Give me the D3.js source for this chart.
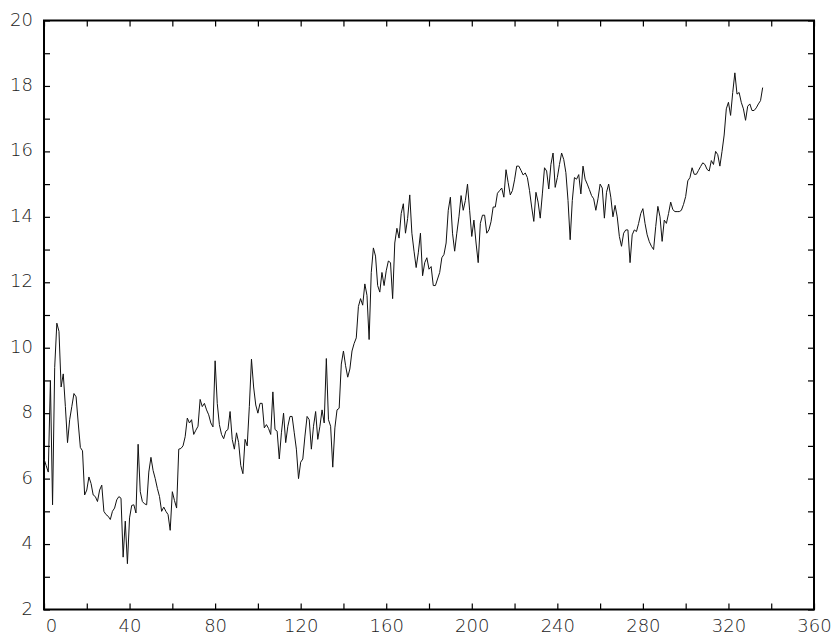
<!DOCTYPE html>
<html>
<head>
<meta charset="utf-8">
<script src="https://cdn.jsdelivr.net/npm/d3@7"></script>
<style>
  body { margin: 0; background: #fff; }
  .tick text { font-family: "DejaVu Sans", sans-serif; font-size: 18px; font-weight: 200; fill: #222; }
</style>
</head>
<body>
<svg id="chart" width="835" height="637"></svg>
<script>
// Series sampled once per x step, starting at x = 0
const values = [
  6.6, 6.4, 6.2, 9.0, 5.2, 9.4, 10.75, 10.5, 8.8, 9.2,
  8.2, 7.1, 7.8, 8.2, 8.6, 8.5, 7.7, 6.95, 6.85, 5.5,
  5.65, 6.05, 5.85, 5.5, 5.45, 5.3, 5.65, 5.8, 5.0, 4.9,
  4.85, 4.75, 5.0, 5.1, 5.35, 5.45, 5.4, 3.6, 4.7, 3.4,
  4.8, 5.18, 5.2, 4.95, 7.05, 5.6, 5.3, 5.23, 5.2, 6.2,
  6.65, 6.25, 6.0, 5.7, 5.45, 5.0, 5.13, 5.0, 4.9, 4.42,
  5.6, 5.33, 5.1, 6.9, 6.92, 7.0, 7.28, 7.85, 7.7, 7.8,
  7.35, 7.48, 7.6, 8.42, 8.2, 8.3, 8.1, 7.95, 7.7, 7.58,
  9.6, 8.3, 7.65, 7.35, 7.22, 7.45, 7.5, 8.05, 7.2, 6.9,
  7.4, 7.1, 6.4, 6.15, 7.2, 7.0, 8.2, 9.65, 8.8, 8.25,
  8.0, 8.3, 8.3, 7.55, 7.65, 7.53, 7.35, 8.65, 7.5, 7.45,
  6.6, 7.4, 8.0, 7.1, 7.6, 7.9, 7.9, 7.4, 6.9, 6.0,
  6.5, 6.6, 7.3, 7.9, 7.8, 6.9, 7.6, 8.05, 7.2, 7.6,
  8.1, 7.7, 9.67, 7.8, 7.6, 6.35, 7.55, 8.1, 8.15, 9.5,
  9.9, 9.45, 9.1, 9.35, 9.9, 10.13, 10.3, 11.26, 11.5, 11.3,
  11.95, 11.6, 10.25, 12.3, 13.05, 12.8, 11.9, 11.7, 12.3, 11.9,
  12.35, 12.65, 12.6, 11.5, 13.2, 13.65, 13.35, 14.1, 14.4, 13.5,
  13.95, 14.67, 13.5, 12.95, 12.45, 12.9, 13.5, 12.2, 12.6, 12.75,
  12.4, 12.48, 11.9, 11.9, 12.1, 12.3, 12.75, 12.85, 13.2, 14.2,
  14.6, 13.5, 12.95, 13.5, 14.0, 14.65, 14.2, 14.5, 15.0, 14.2,
  13.4, 13.9, 13.2, 12.6, 13.8, 14.05, 14.05, 13.5, 13.6, 13.85,
  14.3, 14.3, 14.72, 14.8, 14.88, 14.6, 15.44, 15.05, 14.67, 14.8,
  15.13, 15.55, 15.55, 15.42, 15.28, 15.34, 15.2, 14.8, 14.3, 13.86,
  14.75, 14.45, 13.96, 14.7, 15.5, 15.4, 14.85, 15.6, 15.95, 14.9,
  15.2, 15.6, 15.95, 15.75, 15.35, 14.5, 13.3, 14.5, 15.2, 15.15,
  15.29, 14.7, 15.55, 15.15, 15.0, 14.83, 14.65, 14.55, 14.2, 14.55,
  15.0, 14.88, 13.96, 14.75, 15.0, 14.6, 14.0, 14.35, 14.0, 13.4,
  13.1, 13.5, 13.6, 13.6, 12.6, 13.45, 13.6, 13.55, 13.8, 14.1,
  14.25, 13.8, 13.45, 13.24, 13.1, 13.0, 13.7, 14.32, 14.0, 13.25,
  13.9, 13.8, 14.1, 14.45, 14.22, 14.16, 14.16, 14.16, 14.2, 14.38,
  14.62, 15.1, 15.2, 15.5, 15.3, 15.3, 15.42, 15.54, 15.65, 15.6,
  15.45, 15.4, 15.72, 15.6, 16.0, 15.9, 15.55, 16.0, 16.5, 17.3,
  17.5, 17.1, 17.8, 18.4, 17.75, 17.8, 17.5, 17.3, 16.95, 17.38,
  17.45, 17.25, 17.25, 17.33, 17.45, 17.55, 17.95
];

// Axis ranges and tick positions
const xDomain = [0, 360];
const yDomain = [2, 20];
const xTicks = d3.range(0, 361, 20);      // every 20, labelled every 40
const yTicks = d3.range(2, 21, 1);        // every 1, labelled every 2
const xLabelStep = 40;
const yLabelStep = 2;

const svg = d3.select("#chart");
const plotLeft = 44, plotRight = 814, plotTop = 20.5, plotBottom = 609.5;

const x = d3.scaleLinear().domain(xDomain).range([plotLeft, plotRight]);
const y = d3.scaleLinear().domain(yDomain).range([plotBottom, plotTop]);

const tickLen = 6;

function styleAxis(g) {
  g.select(".domain").remove();
  g.selectAll(".tick line").attr("stroke", "#000").attr("stroke-width", 1.2);
}

// bottom axis with labels; the first label sits just right of the corner
svg.append("g")
  .attr("transform", `translate(0,${plotBottom})`)
  .call(d3.axisBottom(x).tickValues(xTicks).tickSizeInner(-tickLen).tickSizeOuter(0)
    .tickPadding(10).tickFormat(d => d % xLabelStep === 0 ? d : ""))
  .call(styleAxis)
  .call(g => g.selectAll(".tick text").filter(d => d === xDomain[0]).attr("dx", 7));

// top axis, ticks only
svg.append("g")
  .attr("transform", `translate(0,${plotTop})`)
  .call(d3.axisTop(x).tickValues(xTicks).tickSizeInner(-tickLen).tickSizeOuter(0).tickFormat(""))
  .call(styleAxis);

// left axis with labels
svg.append("g")
  .attr("transform", `translate(${plotLeft},0)`)
  .call(d3.axisLeft(y).tickValues(yTicks).tickSizeInner(-tickLen).tickSizeOuter(0)
    .tickPadding(11).tickFormat(d => d % yLabelStep === 0 ? d : ""))
  .call(styleAxis)
  .call(g => g.selectAll(".tick text").attr("dy", "0.25em"));

// right axis, ticks only
svg.append("g")
  .attr("transform", `translate(${plotRight},0)`)
  .call(d3.axisRight(y).tickValues(yTicks).tickSizeInner(-tickLen).tickSizeOuter(0).tickFormat(""))
  .call(styleAxis);

// frame
svg.append("rect")
  .attr("x", plotLeft).attr("y", plotTop)
  .attr("width", plotRight - plotLeft).attr("height", plotBottom - plotTop)
  .attr("fill", "none").attr("stroke", "#000").attr("stroke-width", 2);

// data line
const line = d3.line().x((d, i) => x(i)).y(d => y(d));
svg.append("path")
  .datum(values)
  .attr("fill", "none")
  .attr("stroke", "#111")
  .attr("stroke-width", 1)
  .attr("d", line);
</script>
</body>
</html>
